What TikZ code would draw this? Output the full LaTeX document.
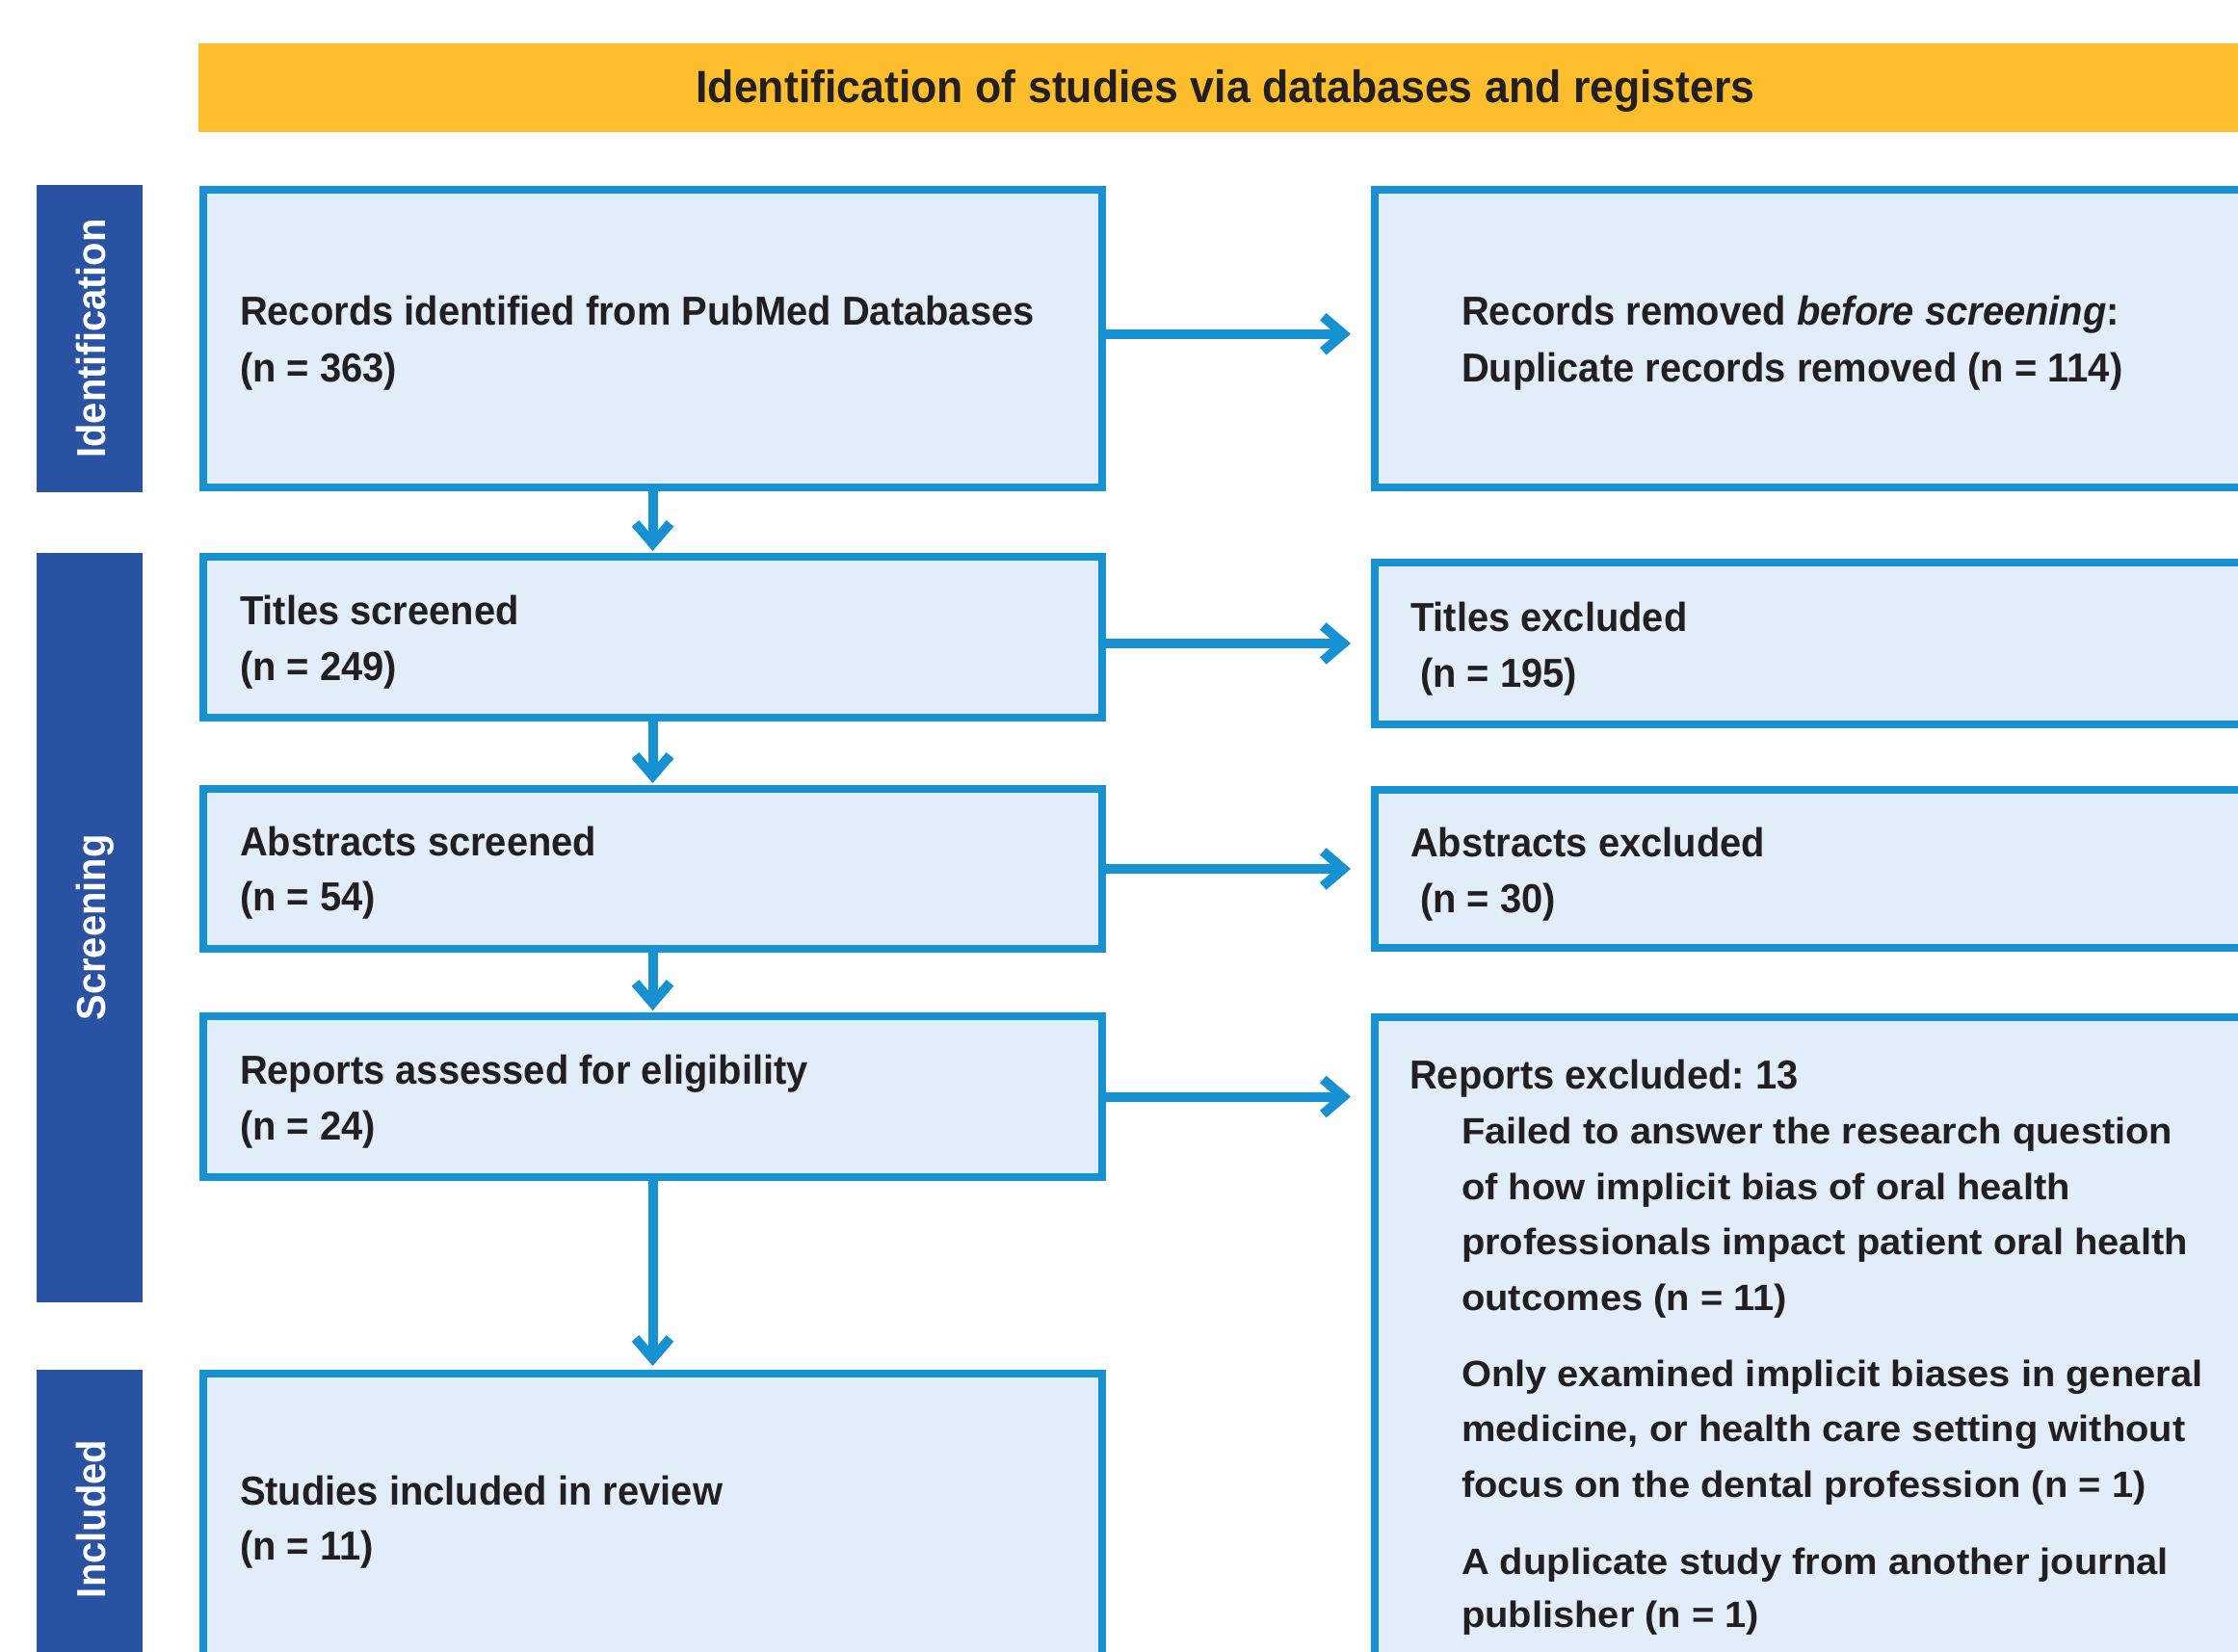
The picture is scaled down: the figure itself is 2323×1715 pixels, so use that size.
\documentclass[tikz,border=0pt]{standalone}
\usepackage{fontspec}
\setmainfont{Liberation Sans}[FakeStretch=0.95]
\newfontfamily\widefont{Liberation Sans}[FakeStretch=1.05]
\usetikzlibrary{arrows.meta}
\frenchspacing
\definecolor{bordblue}{RGB}{22,146,211}
\definecolor{boxfill}{RGB}{225,237,249}
\definecolor{banneryel}{RGB}{252,190,45}
\definecolor{sidebl}{RGB}{42,82,163}
\definecolor{txtc}{RGB}{35,31,32}
\newcommand\mainfnt{\fontsize{42}{50}\selectfont\bfseries}
\newcommand\detfnt{\widefont\fontsize{38}{46}\selectfont\bfseries}
\newcommand\bannerfnt{\fontsize{47}{55}\selectfont\bfseries}
\newcommand\txtline[5]{\node[#1] (#2) at (#3,#4) {#5};}
\begin{document}
\begin{tikzpicture}[x=1pt,y=-1pt,
  box/.style={draw=bordblue,fill=boxfill,line width=8pt,rectangle,inner sep=0pt,outer sep=0pt},
  sidebar/.style={fill=sidebl,rectangle,inner sep=0pt,outer sep=0pt,minimum width=110pt},
  lbl/.style={anchor=base west,inner sep=0pt,outer sep=0pt,text=txtc,font=\mainfnt},
  det/.style={anchor=base west,inner sep=0pt,outer sep=0pt,text=txtc,font=\detfnt},
  sidetxt/.style={anchor=base,rotate=90,inner sep=0pt,outer sep=0pt,text=white,font=\mainfnt},
  arr/.style={draw=bordblue,line width=10pt,-{Straight Barb[length=21pt,width=36pt]}},
]
\useasboundingbox (0,0) rectangle (2323,1715);
\clip (0,0) rectangle (2323,1715);

% banner
\node[fill=banneryel,rectangle,inner sep=0pt,minimum width=2134pt,minimum height=92pt] (banner) at (1273,91) {};
\node[anchor=base,inner sep=0pt,text=txtc,font=\bannerfnt] (bannertxt) at (1272,107) {Identification of studies via databases and registers};

% side bars
\node[sidebar,minimum height=319pt] (sb1) at (93,351.5) {};
\node[sidebar,minimum height=778pt] (sb2) at (93,963) {};
\node[sidebar,minimum height=338pt] (sb3) at (93,1591) {};
\node[sidetxt] (sb1t) at (109,351.5) {Identification};
\node[sidetxt] (sb2t) at (109,963) {Screening};
\node[sidetxt] (sb3t) at (109,1577) {Included};

% left boxes
\node[box,minimum width=933pt,minimum height=309pt] (b1) at (677.5,351.5) {};
\node[box,minimum width=933pt,minimum height=167pt] (b2) at (677.5,661.5) {};
\node[box,minimum width=933pt,minimum height=166pt] (b3) at (677.5,902) {};
\node[box,minimum width=933pt,minimum height=167pt] (b4) at (677.5,1138.5) {};
\node[box,minimum width=933pt,minimum height=330pt] (b5) at (677.5,1591) {};

% right boxes
\node[box,minimum width=929pt,minimum height=309pt] (r1) at (1891.5,351.5) {};
\node[box,minimum width=929pt,minimum height=168pt] (r2) at (1891.5,668) {};
\node[box,minimum width=929pt,minimum height=164pt] (r3) at (1891.5,902) {};
\node[box,minimum width=929pt,minimum height=700pt] (r4) at (1891.5,1406) {};

% arrows
\draw[arr,shorten >=6pt] (b1.south) -- (b2.north);
\draw[arr,shorten >=6pt] (b2.south) -- (b3.north);
\draw[arr,shorten >=6pt] (b3.south) -- (b4.north);
\draw[arr,shorten >=8pt] (b4.south) -- (b5.north);
\draw[arr,shorten >=25pt] ([yshift=4.8pt]b1.east) -- ([yshift=4.8pt]r1.west);
\draw[arr,shorten >=25pt] (b2.east |- r2.west) -- (r2.west);
\draw[arr,shorten >=25pt] (b3.east) -- (r3.west);
\draw[arr,shorten >=25pt] (b4.east) -- (b4.east -| r4.west);

% left texts
\txtline{lbl}{t1a}{249}{337.5}{Records identified from PubMed Databases}
\txtline{lbl}{t1b}{249}{396}{(n = 363)}
\txtline{lbl}{t2a}{249}{648.5}{Titles screened}
\txtline{lbl}{t2b}{249}{706}{(n = 249)}
\txtline{lbl}{t3a}{249}{888}{Abstracts screened}
\txtline{lbl}{t3b}{249}{945}{(n = 54)}
\txtline{lbl}{t4a}{249}{1125}{Reports assessed for eligibility}
\txtline{lbl}{t4b}{249}{1183}{(n = 24)}
\txtline{lbl}{t5a}{249}{1562}{Studies included in review}
\txtline{lbl}{t5b}{249}{1619}{(n = 11)}

% right texts
\txtline{lbl}{u1a}{1517}{337.5}{Records removed \textit{before screening}:}
\txtline{lbl}{u1b}{1517}{396}{Duplicate records removed (n = 114)}
\txtline{lbl}{u2a}{1464}{655}{Titles excluded}
\txtline{lbl}{u2b}{1474}{713}{(n = 195)}
\txtline{lbl}{u3a}{1464}{889}{Abstracts excluded}
\txtline{lbl}{u3b}{1474}{947}{(n = 30)}
\txtline{lbl}{u4a}{1463}{1130}{Reports excluded: 13}
\txtline{det}{d1}{1517}{1187}{Failed to answer the research question}
\txtline{det}{d2}{1517}{1245}{of how implicit bias of oral health}
\txtline{det}{d3}{1517}{1302}{professionals impact patient oral health}
\txtline{det}{d4}{1517}{1360}{outcomes (n = 11)}
\txtline{det}{d5}{1517}{1439}{Only examined implicit biases in general}
\txtline{det}{d6}{1517}{1496}{medicine, or health care setting without}
\txtline{det}{d7}{1517}{1554}{focus on the dental profession (n = 1)}
\txtline{det}{d8}{1517}{1634}{A duplicate study from another journal}
\txtline{det}{d9}{1517}{1689.5}{publisher (n = 1)}
\end{tikzpicture}
\end{document}
